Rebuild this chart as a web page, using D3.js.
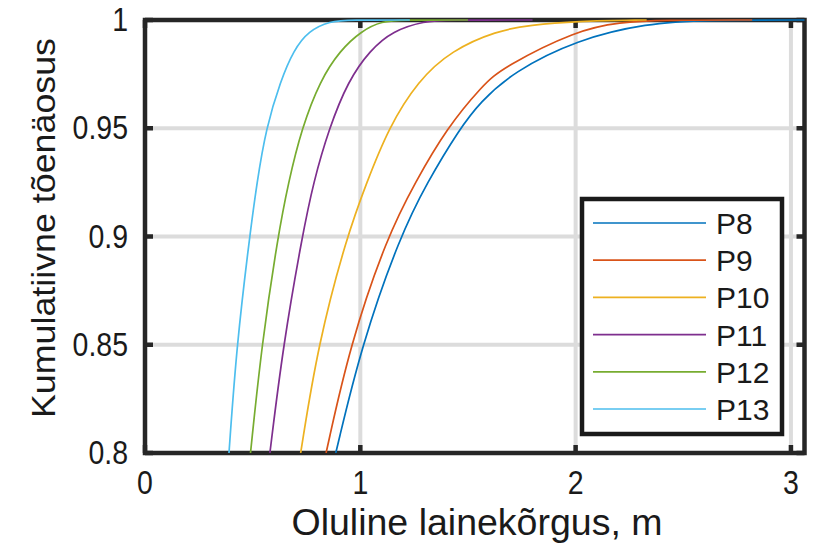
<!DOCTYPE html>
<style>
  body { margin: 0; background: white; }
  svg { display: block; font-family: "Liberation Sans", Arial, sans-serif; }
  .grid line { stroke: #dcdcdc; stroke-width: 4; }
  .box { fill: none; stroke: #262626; stroke-width: 4.5; }
  .tick { stroke: #262626; stroke-width: 4.5; }
  .lbl { fill: #1a1a1a; }
</style>
<body>
</body>
<script src="https://cdn.jsdelivr.net/npm/d3@7"></script>
<script>
  // legend names and colours (MATLAB default order)
  const names = ['P8', 'P9', 'P10', 'P11', 'P12', 'P13'];
  const colors = ['#0072BD', '#D95319', '#EDB120', '#7E2F8E', '#77AC30', '#4DBEEE'];

  // wave height (m) and cumulative probability
  const p8h  = [0.886, 1.006, 1.184, 1.31, 1.463, 1.556, 1.709, 2.007, 2.332, 2.6, 3.1];
  const p8f  = [0.80, 0.85, 0.90, 0.925, 0.95, 0.962, 0.976, 0.991, 0.9985, 1, 1];
  const p9h  = [0.841, 0.952, 1.125, 1.255, 1.401, 1.57, 1.66, 2.007, 2.206, 2.4, 2.82];
  const p9f  = [0.80, 0.85, 0.90, 0.925, 0.95, 0.970, 0.978, 0.9954, 0.999, 1, 1];
  const p10h = [0.723, 0.803, 0.937, 1.03, 1.13, 1.268, 1.424, 1.633, 1.79, 2.0, 2.33];
  const p10f = [0.80, 0.85, 0.90, 0.925, 0.95, 0.972, 0.986, 0.995, 0.9977, 0.9995, 1];
  const p11h = [0.58, 0.642, 0.73, 0.782, 0.855, 0.944, 1.045, 1.15, 1.3, 1.4, 1.8];
  const p11f = [0.80, 0.85, 0.90, 0.925, 0.95, 0.972, 0.986, 0.995, 0.9995, 1, 1];
  const p12h = [0.49, 0.542, 0.617, 0.666, 0.728, 0.813, 0.906, 1.006, 1.1, 1.2, 1.5];
  const p12f = [0.80, 0.85, 0.90, 0.925, 0.95, 0.972, 0.986, 0.995, 0.9995, 1, 1];
  const p13h = [0.39, 0.426, 0.486, 0.52, 0.562, 0.63, 0.69, 0.76, 0.86, 0.95, 1.23];
  const p13f = [0.80, 0.85, 0.90, 0.925, 0.95, 0.972, 0.986, 0.995, 0.9995, 1, 1];

  const xTicks = [0, 1, 2, 3];
  const yTicks = [0.8, 0.85, 0.9, 0.95, 1];

  const series = [[p8h, p8f], [p9h, p9f], [p10h, p10f], [p11h, p11f], [p12h, p12f], [p13h, p13f]]
    .map(([h, f], i) => ({name: names[i], color: colors[i], pts: h.map((v, j) => [v, f[j]])}));

  const w = 818, h = 549;
  const l = 145, r = 804.5, t = 20, b = 453;

  const x = d3.scaleLinear().domain([0, 3.063]).range([l, r]);
  const y = d3.scaleLinear().domain([0.8, 1]).range([b, t]);

  const svg = d3.select('body').append('svg')
    .attr('width', w)
    .attr('height', h);

  svg.append('defs').append('clipPath').attr('id', 'clip')
    .append('rect')
    .attr('x', l).attr('y', t - 2)
    .attr('width', r - l).attr('height', b - t + 2);

  // grid
  const grid = svg.append('g').attr('class', 'grid');
  grid.append('g').selectAll('line')
    .data(xTicks.filter(d => d > 0))
    .join('line')
    .attr('x1', d => x(d)).attr('x2', d => x(d))
    .attr('y1', t).attr('y2', b);
  grid.append('g').selectAll('line')
    .data(yTicks.filter(d => d > 0.8 && d < 1))
    .join('line')
    .attr('x1', l).attr('x2', r)
    .attr('y1', d => y(d)).attr('y2', d => y(d));

  const line = d3.line()
    .x(d => x(d[0]))
    .y(d => y(d[1]))
    .curve(d3.curveBasis);

  // box
  svg.append('rect').attr('class', 'box')
    .attr('x', l).attr('y', t)
    .attr('width', r - l).attr('height', b - t);

  // inward ticks on all four sides
  const tk = svg.append('g').attr('class', 'tick');
  xTicks.forEach(d => {
    tk.append('line').attr('x1', x(d)).attr('x2', x(d)).attr('y1', b).attr('y2', b - 8);
    tk.append('line').attr('x1', x(d)).attr('x2', x(d)).attr('y1', t).attr('y2', t + 8);
  });
  yTicks.forEach(d => {
    tk.append('line').attr('y1', y(d)).attr('y2', y(d)).attr('x1', l).attr('x2', l + 8);
    tk.append('line').attr('y1', y(d)).attr('y2', y(d)).attr('x1', r).attr('x2', r - 8);
  });

  // curves
  svg.append('g')
    .attr('clip-path', 'url(#clip)')
    .selectAll('path')
    .data(series)
    .join('path')
    .attr('fill', 'none')
    .attr('stroke', d => d.color)
    .attr('stroke-width', 1.7)
    .attr('d', d => line(d.pts));

  // tick labels
  svg.append('g').attr('class', 'lbl')
    .selectAll('text')
    .data(xTicks)
    .join('text')
    .attr('transform', d => `translate(${x(d)}, 494) scale(0.95, 1.08)`)
    .attr('text-anchor', 'middle')
    .attr('font-size', 30)
    .text(d => d);

  svg.append('g').attr('class', 'lbl')
    .selectAll('text')
    .data(yTicks)
    .join('text')
    .attr('transform', d => `translate(128, ${y(d) + 11}) scale(0.95, 1.08)`)
    .attr('text-anchor', 'end')
    .attr('font-size', 30)
    .text(d => d);

  // axis labels
  svg.append('text').attr('class', 'lbl')
    .attr('x', 477).attr('y', 535)
    .attr('text-anchor', 'middle')
    .attr('font-size', 36)
    .attr('textLength', 371)
    .attr('lengthAdjust', 'spacingAndGlyphs')
    .text('Oluline lainekõrgus, m');

  svg.append('text').attr('class', 'lbl')
    .attr('transform', 'translate(55, 228) rotate(-90)')
    .attr('text-anchor', 'middle')
    .attr('font-size', 34)
    .attr('textLength', 380)
    .attr('lengthAdjust', 'spacingAndGlyphs')
    .text('Kumulatiivne tõenäosus');

  // legend
  const lg = svg.append('g');
  lg.append('rect')
    .attr('x', 582).attr('y', 199)
    .attr('width', 200).attr('height', 235)
    .attr('fill', 'white')
    .attr('stroke', '#1a1a1a')
    .attr('stroke-width', 4.5);
  const rowY = d3.scalePoint().domain(names).range([223, 409]);
  const row = lg.selectAll('g')
    .data(series)
    .join('g')
    .attr('transform', d => `translate(0, ${rowY(d.name)})`);
  row.append('line')
    .attr('x1', 593).attr('x2', 706)
    .attr('stroke', d => d.color)
    .attr('stroke-width', 1.7);
  row.append('text').attr('class', 'lbl')
    .attr('x', 716).attr('y', 11)
    .attr('font-size', 30)
    .text(d => d.name);
</script>
